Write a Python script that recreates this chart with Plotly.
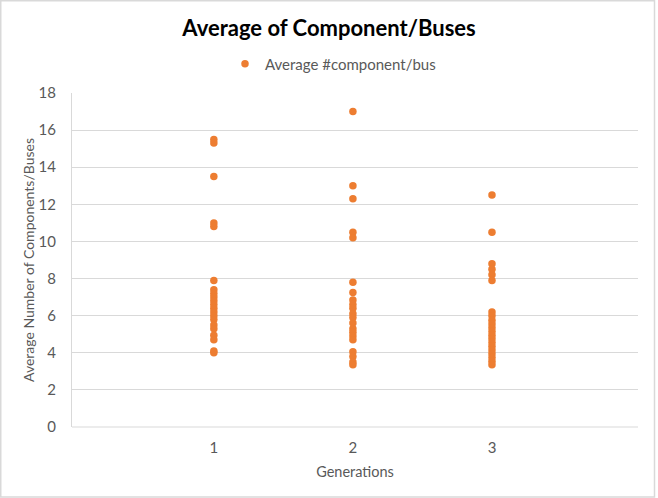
import plotly.graph_objects as go

generations = [1, 2, 3]
gen1_values = [15.5, 15.3, 13.5, 11.0, 10.8, 7.9, 7.4, 7.2, 7.0, 6.8, 6.6, 6.4,
               6.2, 6.0, 5.8, 5.5, 5.3, 4.95, 4.7, 4.1, 4.0]
gen2_values = [17.0, 13.0, 12.3, 10.5, 10.2, 7.8, 7.25, 6.85, 6.6, 6.4, 6.1, 5.9,
               5.6, 5.3, 5.1, 4.9, 4.7, 4.05, 3.8, 3.5, 3.35]
gen3_values = [12.5, 10.5, 8.8, 8.5, 8.2, 7.9, 6.2, 6.0, 5.75, 5.55, 5.35, 5.15,
               4.95, 4.75, 4.55, 4.35, 4.15, 3.95, 3.75, 3.55, 3.35]
y_ticks = [0, 2, 4, 6, 8, 10, 12, 14, 16, 18]

series = [gen1_values, gen2_values, gen3_values]
xs, ys = [], []
for g, vals in zip(generations, series):
    xs += [g] * len(vals)
    ys += vals

ORANGE = "#ED7D31"
GRID = "#D9D9D9"
TXT = "#595959"
FONT = "Lato"

fig = go.Figure()
fig.add_trace(go.Scatter(
    x=xs, y=ys, mode="markers", name="Average #component/bus",
    marker=dict(color=ORANGE, size=7.5, line=dict(width=0)),
))

W, H = 658, 498
L, R, T, B = 72, 20, 93, 71
pw, ph = W - L - R, H - T - B

fig.update_layout(
    width=W, height=H,
    margin=dict(l=L, r=R, t=T, b=B),
    paper_bgcolor="white", plot_bgcolor="white",
    font=dict(family=FONT, color=TXT, size=13),
    title=dict(text="<b>Average of Component/Buses</b>", x=329 / W, xanchor="center",
               y=1 - 28 / H, yanchor="middle",
               font=dict(family=FONT, size=22, color="#000000")),
    showlegend=True,
    legend=dict(orientation="h", x=(333 - L) / pw, xanchor="center",
                y=1 + (93 - 64) / ph, yanchor="middle",
                font=dict(family=FONT, size=15, color=TXT),
                itemwidth=30, bgcolor="rgba(0,0,0,0)"),
    xaxis=dict(range=[-0.02, 4.05], tickvals=generations, ticktext=[str(g) for g in generations],
               showgrid=False, zeroline=False, showline=False, ticks="",
               tickfont=dict(size=15, color=TXT), ticklabelstandoff=10,
               title=dict(text="Generations", font=dict(size=14.5, color=TXT), standoff=11)),
    yaxis=dict(range=[0, 18], tickvals=y_ticks, showgrid=True, gridcolor=GRID, gridwidth=1,
               zeroline=False, showline=True, linecolor=GRID, linewidth=1, ticks="",
               tickfont=dict(size=15, color=TXT), ticklabelstandoff=12,
               title=dict(text="Average Number of Components/Buses",
                          font=dict(size=14, color=TXT), standoff=0)),
)

# bottom axis line at y=0
fig.add_shape(type="line", xref="paper", yref="paper", x0=0, x1=1, y0=0, y1=0,
              line=dict(color=GRID, width=1), layer="below")
# chart border
fig.add_shape(type="rect", xref="paper", yref="paper",
              x0=(0.75 - L) / pw, x1=(654.5 - L) / pw,
              y0=-(497 - (H - B)) / ph, y1=(H - B - 0.75) / ph,
              line=dict(color=GRID, width=1.5), fillcolor="rgba(0,0,0,0)")

fig.write_html("out.html", config={"displayModeBar": False, "staticPlot": True})

with open("out.html", "r", encoding="utf-8") as f:
    html = f.read()
html = html.replace("<head>", "<head><style>html,body{margin:0;padding:0;overflow:hidden;}</style>", 1)
with open("out.html", "w", encoding="utf-8") as f:
    f.write(html)
